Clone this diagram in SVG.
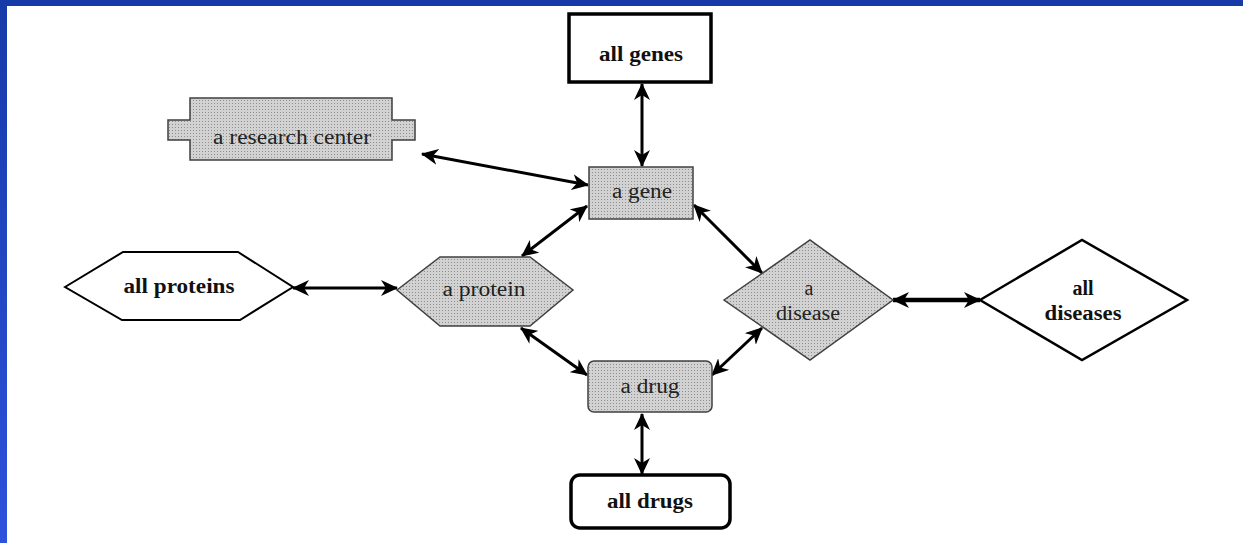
<svg xmlns="http://www.w3.org/2000/svg" width="1243" height="543" viewBox="0 0 1243 543">
<defs>
<linearGradient id="blueL" x1="0" y1="0" x2="0" y2="1">
<stop offset="0" stop-color="#163aa8"/>
<stop offset="1" stop-color="#2d52dc"/>
</linearGradient>
<pattern id="dots" width="3" height="3" patternUnits="userSpaceOnUse">
<rect width="3" height="3" fill="#d2d2d2"/>
<rect x="1" y="1" width="1" height="1" fill="#8f8f8f"/>
</pattern>
<marker id="ah" viewBox="0 0 17 16" refX="16" refY="8" markerWidth="17" markerHeight="16" markerUnits="userSpaceOnUse" orient="auto-start-reverse">
<path d="M0,0 L17,8 L0,16 L5,8 z" fill="#000"/>
</marker>
<style>
.gray{fill:url(#dots);stroke:#404040;stroke-width:1.5}
.white{fill:#fff;stroke:#000;stroke-width:2.5}
.t{font-family:"Liberation Serif","Times New Roman",serif;font-size:20px;fill:#222;text-anchor:middle}
.b{font-weight:bold;fill:#111}
.c{fill:none;stroke:#000;stroke-width:3;marker-start:url(#ah);marker-end:url(#ah)}
</style>
</defs>
<rect width="1243" height="543" fill="#fff"/>
<rect x="0" y="0" width="1243" height="6" fill="#163aa8"/>
<rect x="0" y="0" width="7" height="543" fill="url(#blueL)"/>

<g id="connectors">
<line class="c" x1="642" y1="84" x2="642" y2="166"/>
<line class="c" x1="422" y1="154" x2="588" y2="185"/>
<line class="c" x1="522" y1="256" x2="587" y2="206"/>
<line class="c" x1="694" y1="205" x2="762" y2="273"/>
<line class="c" x1="293" y1="288" x2="397" y2="288"/>
<line class="c" style="stroke-width:4.5" x1="893" y1="300" x2="980" y2="300"/>
<line class="c" x1="521" y1="328" x2="587" y2="375"/>
<line class="c" x1="712" y1="375" x2="762" y2="328"/>
<line class="c" x1="642" y1="414" x2="642" y2="474"/>
</g>

<g id="all-genes">
<rect class="white" x="569" y="14" width="142" height="68" style="stroke-width:3.5"/>
<text class="t b" x="641" y="61" textLength="84" lengthAdjust="spacingAndGlyphs">all genes</text>
</g>

<g id="research-center">
<polygon class="gray" points="190,98 392,98 392,120 415,120 415,140 392,140 392,160 190,160 190,140 168,140 168,120 190,120"/>
<text class="t" x="292" y="144" textLength="158" lengthAdjust="spacingAndGlyphs">a research center</text>
</g>

<g id="a-gene">
<rect class="gray" x="589" y="167" width="104" height="52"/>
<text class="t" x="642" y="198" textLength="60" lengthAdjust="spacingAndGlyphs">a gene</text>
</g>

<g id="all-proteins">
<polygon class="white" points="65,287 123,252 238,252 293,287 240,320 122,320" style="stroke-width:2"/>
<text class="t b" x="179" y="293" textLength="111" lengthAdjust="spacingAndGlyphs">all proteins</text>
</g>

<g id="a-protein">
<polygon class="gray" points="397,290 440,257 530,257 573,290 530,326 440,326"/>
<text class="t" x="484" y="296" textLength="83" lengthAdjust="spacingAndGlyphs">a protein</text>
</g>

<g id="a-disease">
<polygon class="gray" points="724,300 810,240 893,300 810,360"/>
<text class="t" x="809" y="295">a</text>
<text class="t" x="808" y="320" textLength="64" lengthAdjust="spacingAndGlyphs">disease</text>
</g>

<g id="all-diseases">
<polygon class="white" points="980,300 1082,240 1187,300 1082,360"/>
<text class="t b" x="1083" y="295">all</text>
<text class="t b" x="1083" y="320" textLength="77" lengthAdjust="spacingAndGlyphs">diseases</text>
</g>

<g id="a-drug">
<rect class="gray" x="588" y="361" width="124" height="51" rx="6"/>
<text class="t" x="650" y="393" textLength="59" lengthAdjust="spacingAndGlyphs">a drug</text>
</g>

<g id="all-drugs">
<rect class="white" x="571" y="475" width="159" height="53" rx="9" style="stroke-width:3.5"/>
<text class="t b" x="650" y="508" textLength="86" lengthAdjust="spacingAndGlyphs">all drugs</text>
</g>
</svg>
